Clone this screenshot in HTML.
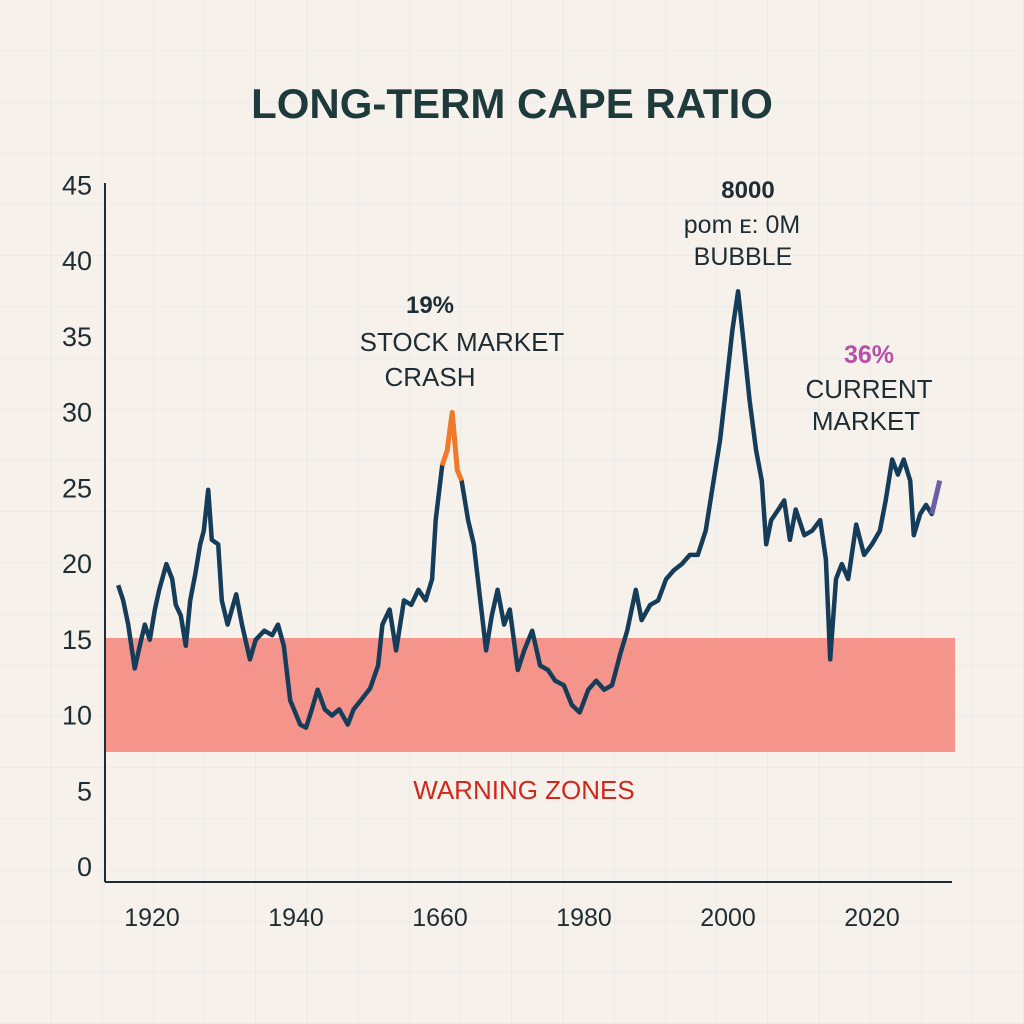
<!DOCTYPE html>
<html><head><meta charset="utf-8"><style>
html,body{margin:0;padding:0;background:#f6f2eb;}
svg{display:block;font-family:"Liberation Sans","DejaVu Sans",sans-serif;}
</style></head><body>
<svg id="chart" width="1024" height="1024" viewBox="0 0 1024 1024">
<defs><pattern id="grid" width="51.2" height="51.2" patternUnits="userSpaceOnUse"><path d="M51.2 0V51.2M0 51.2H51.2" stroke="#e1e4ea" stroke-width="1" fill="none"/></pattern></defs>
<rect width="1024" height="1024" fill="#f6f2eb"/>
<rect width="1024" height="1024" fill="url(#grid)"/>
<text x="512" y="118" text-anchor="middle" font-size="42" font-weight="bold" fill="#1f3a3a">LONG-TERM CAPE RATIO</text>
<rect x="105" y="638" width="850" height="114" fill="#f4948a"/>
<text x="524" y="799" text-anchor="middle" font-size="26" fill="#d0281d">WARNING ZONES</text>
<g id="axes"></g>
<g id="series"></g>
<g fill="#1d2d33" text-anchor="middle">
<text x="430" y="313" font-size="24" font-weight="bold">19%</text>
<text x="462" y="351" font-size="26">STOCK MARKET</text>
<text x="430" y="386" font-size="26">CRASH</text></g>
<g fill="#1d2d33" text-anchor="middle">
<text x="748" y="198" font-size="24" font-weight="bold">8000</text>
<text x="742" y="233" font-size="25">pom ᴇ: 0M</text>
<text x="743" y="265" font-size="25">BUBBLE</text></g>
<g text-anchor="middle">
<text x="869" y="363" font-size="25" font-weight="bold" fill="#b84fa8">36%</text>
<text x="869" y="398" font-size="26" fill="#1d2d33">CURRENT</text>
<text x="866" y="430" font-size="26" fill="#1d2d33">MARKET</text></g>
</svg>
<script>
const years=[1915.3,1916,1916.7,1917.6,1918.3,1919,1919.7,1920.4,1921,1922,1922.8,1923.3,1924,1924.7,1925.3,1926,1926.7,1927.2,1927.8,1928.3,1929.2,1929.7,1930.5,1931.7,1932.5,1933.6,1934.4,1935.6,1936.7,1937.5,1938.3,1939.2,1940.6,1941.4,1942.2,1943,1944,1945,1946,1947.2,1948,1949,1950.3,1951.4,1952,1953,1953.9,1955,1956,1957,1958,1958.9,1959.4,1960.3,1961,1961.7,1962.4,1963,1963.9,1964.7,1965.6,1966.4,1967.2,1968,1968.9,1969.7,1970.8,1971.7,1972.8,1973.9,1975,1976,1977.2,1978.3,1979.4,1980.6,1981.7,1982.8,1983.9,1985,1986,1987.2,1988,1989.2,1990.3,1991.4,1992.5,1993.6,1994.7,1995.8,1996.9,1998,1998.9,1999.7,2000.6,2001.4,2002.2,2003,2003.9,2004.7,2005.3,2006,2007,2007.8,2008.6,2009.4,2010.6,2011.7,2012.8,2013.6,2014.2,2015,2015.8,2016.7,2017.8,2018.9,2020,2021.1,2021.9,2022.8,2023.6,2024.4,2025.3,2025.8,2026.7,2027.5,2028.3,2029.4];
const cape=[18.6,17.6,16,13.1,14.6,16,15,17,18.3,20,19,17.3,16.6,14.6,17.6,19.3,21.3,22.2,24.9,21.6,21.3,17.6,16,18,16,13.7,15,15.6,15.3,16,14.6,11,9.4,9.2,10.4,11.7,10.4,10,10.4,9.4,10.4,11,11.8,13.3,16,17,14.3,17.6,17.3,18.3,17.6,19,22.9,26.5,27.5,30,26.2,25.5,22.9,21.3,17.6,14.3,16.6,18.3,16,17,13,14.3,15.6,13.3,13,12.3,12,10.7,10.2,11.7,12.3,11.7,12,14,15.6,18.3,16.3,17.3,17.6,19,19.6,20,20.6,20.6,22.2,25.5,28.2,31.5,35.4,38,34.5,30.8,27.5,25.5,21.3,22.9,23.6,24.2,21.6,23.6,21.9,22.2,22.9,20.3,13.7,19,20,19,22.6,20.6,21.3,22.2,24.2,26.9,25.9,26.9,25.5,21.9,23.3,23.9,23.3,25.5];
const yTicks=[0,5,10,15,20,25,30,35,40,45];
const xTicks=[1920,1940,1960,1980,2000,2020];
const xTickLabels=["1920","1940","1660","1980","2000","2020"];
const NS="http://www.w3.org/2000/svg";
const xs=y=>152+(y-1920)*7.2;
const ys=v=>867-15.15*v;
function mk(t,a,p){const e=document.createElementNS(NS,t);for(const k in a)e.setAttribute(k,a[k]);p.appendChild(e);return e;}
const ax=document.getElementById('axes');
const yl=mk('line',{x1:105,y1:183,x2:105,y2:882,stroke:'#1d2d33','stroke-width':2},ax);


const xl=mk('line',{x1:105,y1:882,x2:952,y2:882,stroke:'#1d2d33','stroke-width':2},ax);


yTicks.forEach(v=>{const t=mk('text',{x:92,y:ys(v)+9,'text-anchor':'end','font-size':27,fill:'#1d2d33'},ax);t.textContent=v;

});
xTicks.forEach((v,i)=>{const t=mk('text',{x:xs(v),y:926,'text-anchor':'middle','font-size':25,fill:'#1d2d33'},ax);t.textContent=xTickLabels[i];

});
const sg=document.getElementById('series');
const pts=years.map((y,i)=>xs(y).toFixed(1)+','+ys(cape[i]).toFixed(1)).join(' ');
const pl=mk('polyline',{points:pts,fill:'none',stroke:'#153d59','stroke-width':4.5,'stroke-linejoin':'round'},sg);


const pk=cape.indexOf(Math.max(...cape.slice(50,60)));
const op=[pk-2,pk-1,pk,pk+1,pk+2].map(i=>xs(years[i]).toFixed(1)+','+ys(cape[i]).toFixed(1)).join(' ');
const o=mk('polyline',{points:op,fill:'none',stroke:'#f07a2a','stroke-width':5,'stroke-linejoin':'round'},sg);


const n=years.length;
const cp=[n-2,n-1].map(i=>xs(years[i]).toFixed(1)+','+ys(cape[i]).toFixed(1)).join(' ');
const c=mk('polyline',{points:cp,fill:'none',stroke:'#6b5fa8','stroke-width':5},sg);


</script>
</body></html>
